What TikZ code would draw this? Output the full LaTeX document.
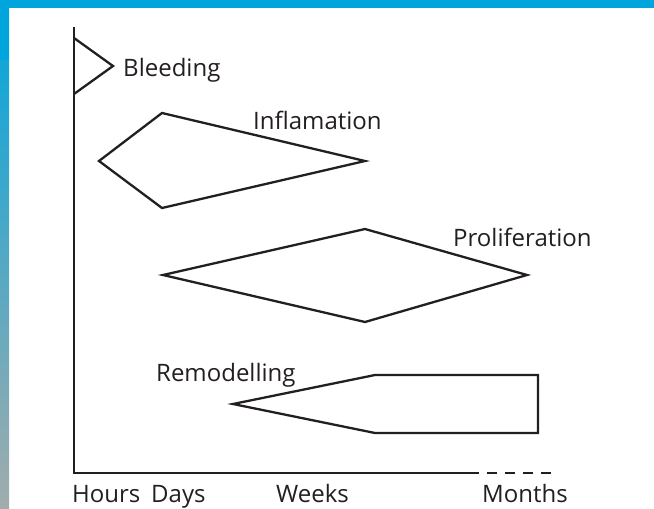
\documentclass[tikz,border=0pt]{standalone}
\usepackage{fontspec}
\setmainfont{Open Sans}
\definecolor{bandblue}{RGB}{0,165,221}
\definecolor{bandgray}{RGB}{162,172,172}
\definecolor{ink}{RGB}{35,31,32}
\begin{document}
\begin{tikzpicture}[x=1pt,y=-1pt,
  shape line/.style={draw=ink,line width=2.3pt,line join=miter},
  axis line/.style={draw=ink,line width=2.3pt},
  lbl/.style={text=ink,font=\fontsize{24}{28}\selectfont,inner sep=0pt,anchor=base west}]
\useasboundingbox (0,0) rectangle (654,509);
\fill[white] (0,0) rectangle (654,509);
\shade[top color=bandblue,bottom color=bandgray] (0,0) rectangle (9,509);
\fill[bandblue] (0,0) rectangle (654,8);
\fill[bandblue] (0,0) rectangle (9,60);
% axes
\coordinate (top) at (74,27);
\coordinate (org) at (74,473);
\coordinate (xend) at (479,473);
\coordinate (dstart) at (487,473);
\coordinate (dend) at (553,473);
\draw[axis line] (top) -- (org) -- (xend);
\draw[axis line,dash pattern=on 10pt off 8pt] (dstart) -- (dend);
% shapes
\draw[shape line] (74,38) -- (113,66) -- (74,94);
\draw[shape line] (99,161) -- (162,113) -- (365,161) -- (162,208) -- cycle;
\draw[shape line] (163,275) -- (365,229) -- (527,275) -- (365,322) -- cycle;
\draw[shape line] (233,404) -- (375,375) -- (538,375) -- (538,433) -- (375,433) -- cycle;
% labels
\node[lbl] (bleed) at (123,76) {Bleeding};
\node[lbl] (infl) at (253,129) {Inflamation};
\node[lbl] (prol) at (453,246) {Proliferation};
\node[lbl] (remo) at (156,381) {Remodelling};
\node[lbl] (hours) at (72,502) {Hours};
\node[lbl] (days) at (151,502) {Days};
\node[lbl] (weeks) at (276,502) {Weeks};
\node[lbl] (months) at (482,502) {Months};
\end{tikzpicture}
\end{document}
